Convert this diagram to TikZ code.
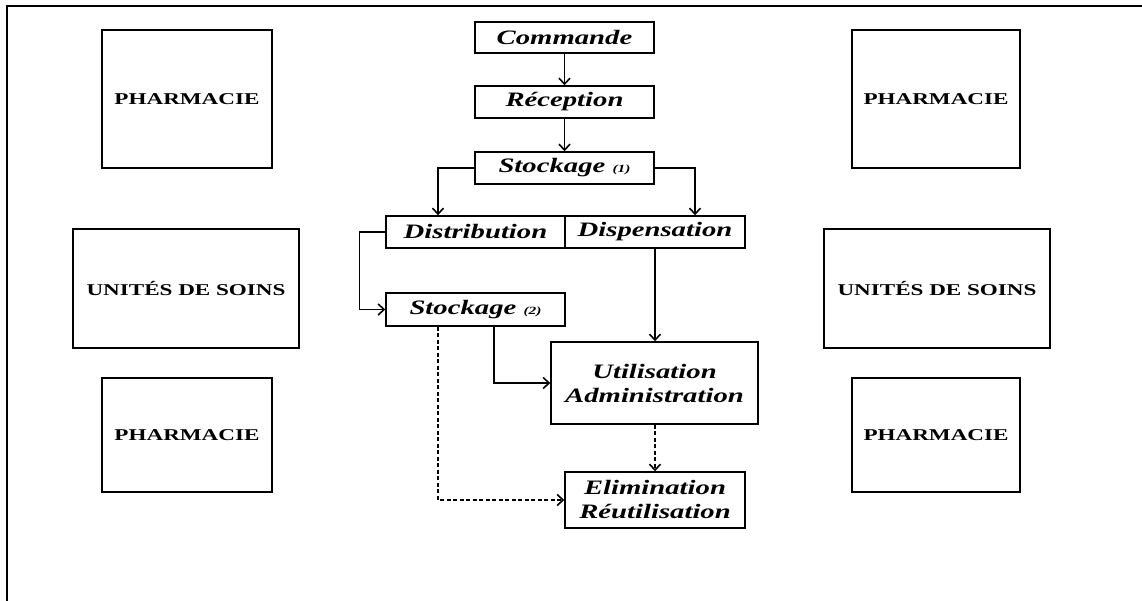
\documentclass[tikz,border=0pt]{standalone}
\usepackage{fontspec}
\setmainfont{Liberation Serif}[FakeStretch=1.4]
\usetikzlibrary{arrows.meta}

\tikzset{
  box/.style={draw, line width=1.4pt, inner sep=0pt, align=center,
    font=\fontsize{20.5}{24}\selectfont\bfseries\itshape},
  sidebox/.style={draw, line width=1.5pt, inner sep=0pt,
    minimum width=170, font=\fontsize{16.5}{20}\selectfont\bfseries},
  arr/.style={line width=1.5pt, -{Straight Barb[length=6pt,width=11pt,line width=1.6pt]}},
  dasharr/.style={arr, dash pattern=on 4pt off 2.5pt},
}
\newcommand{\smallnum}[1]{\fontsize{11}{12}\selectfont #1}

\begin{document}
\begin{tikzpicture}[x=1pt, y=-1pt]
			%%%%% START %%%%%
			\useasboundingbox (0,0) rectangle (1142,601);
			
			\draw[line width=2.6pt] (7,601) -- (7,6) -- (1142,6);
			
			% left column
			\node[sidebox, minimum height=138] (pharmaTL) at (187,99) {PHARMACIE};
			\node[sidebox, minimum width=226, minimum height=119] (soinsL) at (186,288.5) {UNITÉS DE SOINS};
			\node[sidebox, minimum height=114] (pharmaBL) at (187,435) {PHARMACIE};
			
			% right column
			\node[sidebox, minimum width=168, minimum height=138] (pharmaTR) at (936,99) {PHARMACIE};
			\node[sidebox, minimum width=226, minimum height=119] (soinsR) at (937,288.5) {UNITÉS DE SOINS};
			\node[sidebox, minimum width=168, minimum height=114] (pharmaBR) at (936,435) {PHARMACIE};
			
			% circuit
			\node[box, minimum width=179, minimum height=31] (commande) at (564.5,37.5) {Commande};
			\node[box, minimum width=179, minimum height=32] (reception) at (564.5,102) {Réception};
			\node[box, minimum width=179, minimum height=32] (stock1) at (564.5,168) {Stockage \smallnum{(1)}};
			\node[box, minimum width=179, minimum height=32] (distrib) at (475.5,232) {Distribution};
			\node[box, minimum width=180, minimum height=32] (dispens) at (655,232) {Dispensation};
			\node[box, minimum width=179, minimum height=33] (stock2) at (475.5,309.5) {Stockage \smallnum{(2)}};
			\node[box, minimum width=207, minimum height=82] (util) at (654.5,383) {Utilisation\\Administration};
			\node[box, minimum width=180, minimum height=56] (elim) at (655,500) {Elimination\\Réutilisation};
			
			\draw[arr] (commande) -- (reception);
			\draw[arr] (reception) -- (stock1);
			\draw[arr] (stock1.west) -| ([xshift=-37.5pt]distrib.north);
			\draw[arr] (stock1.east) -| ([xshift=40pt]dispens.north);
			\draw[arr] (distrib.west) -- ++(-26,0) |- (stock2.west);
			\draw[arr] (dispens.south) -- (dispens.south |- util.north);
			\draw[arr] ([xshift=18.5pt]stock2.south) |- (util.west);
			\draw[dasharr] (util.south -| elim.north) -- (elim.north);
			\draw[dasharr] ([xshift=-37.5pt]stock2.south) |- (elim.west);
			
			%%%%% END %%%%%
\end{tikzpicture}
\end{document}
